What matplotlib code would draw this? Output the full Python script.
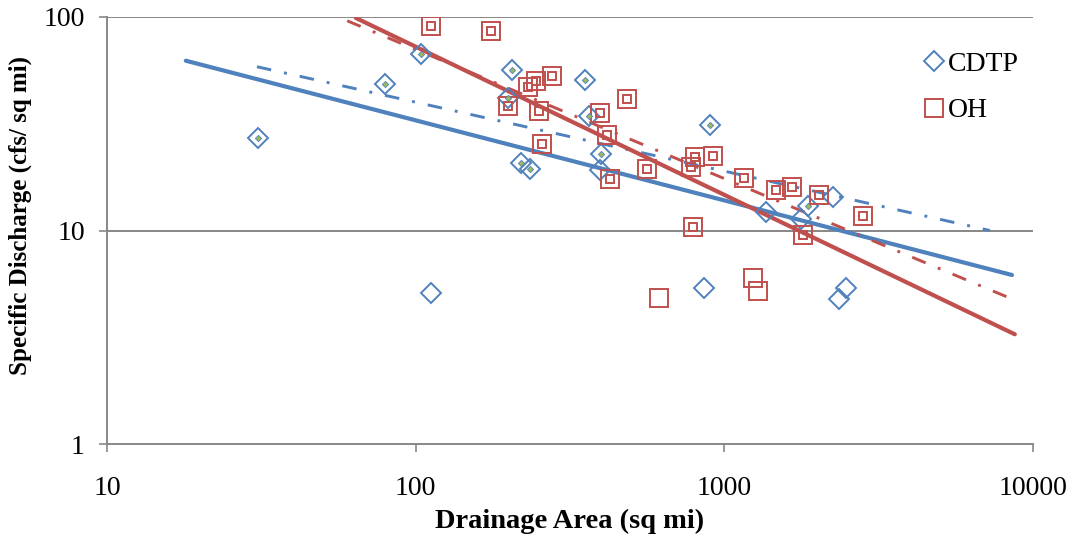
import numpy as np
import matplotlib
matplotlib.use("Agg")
import matplotlib.pyplot as plt
from matplotlib.lines import Line2D

# ---- data ----
cdtp_area = [30.8, 79.5, 103.7, 112, 205.6, 199.5, 219, 234, 353, 364, 398, 395,
             898, 861, 1365, 1778, 1871, 2254, 2472, 2344]
cdtp_q    = [27.1, 48.4, 67.2, 5.1, 56.5, 41.6, 20.6, 19.4, 50.7, 34.4, 22.8, 19.2,
             31.2, 5.36, 12.2, 11.3, 13.0, 14.4, 5.40, 4.78]
cdtp_sub  = [1, 1, 1, 0, 1, 1, 1, 1, 1, 1, 1, 0, 1, 0, 0, 0, 1, 0, 0, 0]

oh_area = [111.9, 175, 245.5, 276, 231.7, 199.5, 251, 482, 395, 418, 256, 427, 560,
           804, 916, 778, 1161, 1469, 1660, 2027, 2819, 1800, 789, 614, 1242, 1289]
oh_q    = [90.7, 86.3, 50.1, 53.1, 46.9, 38.3, 36.3, 41.3, 35.4, 28.0, 25.4, 17.4, 19.4,
           22.2, 22.4, 19.9, 17.7, 15.4, 16.0, 14.7, 11.7, 9.53, 10.4, 4.84, 6.01, 5.23]
oh_sub  = [1, 1, 1, 1, 1, 1, 1, 1, 1, 1, 1, 1, 1, 1, 1, 1, 1, 1, 1, 1, 1, 1, 1, 0, 0, 0]

# power-law trendlines  q = a * A^b, with x extent
trend_cdtp_all = dict(a=184.5, b=-0.375, x0=18.0, x1=8550)
trend_cdtp_sub = dict(a=176.6, b=-0.323, x0=30.6, x1=7245)
trend_oh_all   = dict(a=1774.0, b=-0.694, x0=64.0, x1=8730)
trend_oh_sub   = dict(a=1143.0, b=-0.605, x0=60.0, x1=8770)

x_ticks = [10, 100, 1000, 10000]
y_ticks = [1, 10, 100]
legend_labels = ["CDTP", "OH"]

BLUE = "#4F81BD"
RED = "#C0504D"
GREEN = "#9BBB59"
GREY = "#878787"
FONT = "Liberation Serif"

fig = plt.figure(figsize=(10.76, 5.36), dpi=100)
ax = fig.add_axes([107/1076, 1-444/536, (1033-107)/1076, (444-17)/536])
ax.set_xscale("log")
ax.set_yscale("log")
ax.set_xlim(10, 10000)
ax.set_ylim(1, 100)

for y in [10, 100]:
    ax.axhline(y, color=GREY, lw=1.4, zorder=1)

def trend(t):
    x = np.logspace(np.log10(t["x0"]), np.log10(t["x1"]), 50)
    return x, t["a"] * x ** t["b"]

x, y = trend(trend_cdtp_all)
ax.plot(x, y, color=BLUE, lw=3.0, solid_capstyle="round", zorder=3)
x, y = trend(trend_cdtp_sub)
ax.plot(x, y, color=BLUE, lw=2.1, ls=(0, (5, 4.5, 1, 4.5)), zorder=3)
x, y = trend(trend_oh_all)
ax.plot(x, y, color=RED, lw=3.0, solid_capstyle="round", zorder=3)
x, y = trend(trend_oh_sub)
ax.plot(x, y, color=RED, lw=2.1, ls=(0, (5, 4.5, 1, 4.5)), zorder=3)

ca = np.array(cdtp_area); cq = np.array(cdtp_q); cs = np.array(cdtp_sub, bool)
oa = np.array(oh_area); oq = np.array(oh_q); osub = np.array(oh_sub, bool)

ax.plot(ca, cq, ls="none", marker="D", ms=10.2, mfc="none", mec=BLUE, mew=1.4, zorder=4)
ax.plot(ca[cs], cq[cs], ls="none", marker="D", ms=3.2, mfc=GREEN, mec=BLUE, mew=0.6, zorder=5)
ax.plot(oa, oq, ls="none", marker="s", ms=13.2, mfc="none", mec=RED, mew=1.4, zorder=4)
ax.plot(oa[osub], oq[osub], ls="none", marker="s", ms=5.2, mfc="none", mec=RED, mew=1.4, zorder=5)

for s in ["top", "right"]:
    ax.spines[s].set_visible(False)
for s in ["left", "bottom"]:
    ax.spines[s].set_color(GREY)
    ax.spines[s].set_linewidth(1.4)

ax.set_xticks(x_ticks)
ax.set_xticklabels([str(v) for v in x_ticks])
ax.set_yticks(y_ticks)
ax.set_yticklabels([str(v) for v in y_ticks])
ax.minorticks_off()
ax.tick_params(axis="both", direction="out", length=6, width=1.2, color=GREY,
               labelsize=20)
ax.tick_params(axis="x", pad=17)
ax.tick_params(axis="y", pad=10)
for lab in ax.get_xticklabels() + ax.get_yticklabels():
    lab.set_family(FONT)

ax.set_xlabel("Drainage Area (sq mi)", fontsize=20.5, fontweight="bold", family=FONT, labelpad=6)
ax.set_ylabel("Specific Discharge (cfs/ sq mi)", fontsize=18, fontweight="bold", family=FONT)
ax.yaxis.set_label_coords(-0.081, 0.536)

handles = [Line2D([], [], ls="none", marker="D", ms=10.2, mfc="none", mec=BLUE, mew=1.4),
           Line2D([], [], ls="none", marker="s", ms=13.2, mfc="none", mec=RED, mew=1.4)]
leg = ax.legend(handles, legend_labels, loc="upper left", bbox_to_anchor=(0.881, 0.919),
                frameon=False, handlelength=0.8, handletextpad=0.1, labelspacing=0.75,
                borderpad=0, borderaxespad=0, prop={"family": FONT, "size": 20})

fig.savefig("out.png", dpi=100)
